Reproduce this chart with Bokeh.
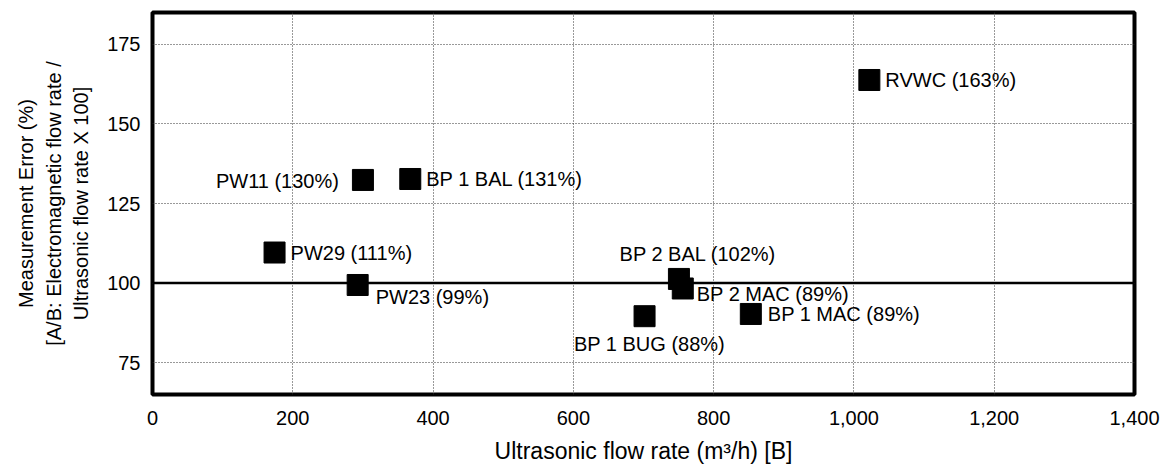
from bokeh.plotting import figure
from bokeh.models import ColumnDataSource, Span, FixedTicker, NumeralTickFormatter
from bokeh.core.properties import value
from bokeh.embed import file_html
from bokeh.resources import INLINE

# ---- data ----
names = ["PW29", "PW23", "PW11", "BP 1 BAL", "BP 2 BAL", "BP 2 MAC", "BP 1 BUG", "BP 1 MAC", "RVWC"]
pct_labels = ["111%", "99%", "130%", "131%", "102%", "89%", "88%", "89%", "163%"]
flow_rate = [174, 292.5, 300, 367.5, 750.5, 756, 701.5, 853, 1022]
meas_error = [109.6, 99.4, 132.4, 132.7, 101.3, 98.3, 89.6, 90.3, 163.8]
x_ticks = [0, 200, 400, 600, 800, 1000, 1200, 1400]
y_ticks = [75, 100, 125, 150, 175]

# ---- label placement (screen offsets, px) ----
label_dx = [16, 18, -24, 16, 19, 14, 5, 17, 16]
label_dy = [0, 12, 1, 0, -25, 6, 28, 0, 0]
label_align = ["left", "left", "right", "left", "center", "left", "center", "left", "left"]

FONT = "Liberation Sans"

labels = [f"{n} ({p})" for n, p in zip(names, pct_labels)]
src = ColumnDataSource(dict(x=flow_rate, y=meas_error, text=labels,
                            dx=label_dx, dy=label_dy, align=label_align))

p = figure(width=1172, height=468, x_range=(0, 1400), y_range=(65, 185),
           output_backend="svg", toolbar_location=None,
           min_border_left=152, min_border_right=38, min_border_top=12, min_border_bottom=74)

p.background_fill_color = "white"
p.border_fill_color = "white"
p.outline_line_color = "black"
p.outline_line_width = 4

# grids
p.xgrid.ticker = FixedTicker(ticks=x_ticks)
p.ygrid.ticker = FixedTicker(ticks=y_ticks)
for g in (p.xgrid, p.ygrid):
    g.grid_line_color = "#333333"
    g.grid_line_dash = "1 2"
    g.grid_line_width = 1

# axes
p.xaxis.ticker = FixedTicker(ticks=x_ticks)
p.yaxis.ticker = FixedTicker(ticks=y_ticks)
p.xaxis.formatter = NumeralTickFormatter(format="0,0")
for ax in (p.xaxis[0], p.yaxis[0]):
    ax.axis_line_color = None
    ax.major_tick_line_color = None
    ax.minor_tick_line_color = None
    ax.major_tick_out = 0
    ax.major_tick_in = 0
    ax.major_label_text_font = FONT
    ax.major_label_text_font_size = "20px"
    ax.major_label_text_color = "black"
    ax.axis_label_text_font = FONT
    ax.axis_label_text_font_style = "normal"
    ax.axis_label_text_color = "black"
    ax.major_label_standoff = 12

p.xaxis.major_label_standoff = 16
p.xaxis.axis_label = "Ultrasonic flow rate (m\u00b3/h) [B]"
p.xaxis.axis_label_text_font_size = "23px"
p.xaxis.axis_label_text_line_height = 1.0
p.xaxis.axis_label_standoff = 10

p.yaxis.axis_label = "Measurement Error (%)\n[A/B: Electromagnetic flow rate /\nUltrasonic flow rate X 100]"
p.yaxis.axis_label_text_font_size = "20px"
p.yaxis.axis_label_text_line_height = 1.25
p.yaxis.axis_label_standoff = 12

# reference line at 100 %
p.add_layout(Span(location=100, dimension="width", line_color="black", line_width=2.5))

# points
p.scatter("x", "y", source=src, marker="square", size=21, fill_color="black", line_color="black")

# labels
p.text("x", "y", text="text", source=src, x_offset="dx", y_offset="dy", text_align="align",
       text_baseline="middle", text_font=value(FONT), text_font_size="20px", text_color="black")

open("out.html", "w").write(file_html(p, INLINE))
